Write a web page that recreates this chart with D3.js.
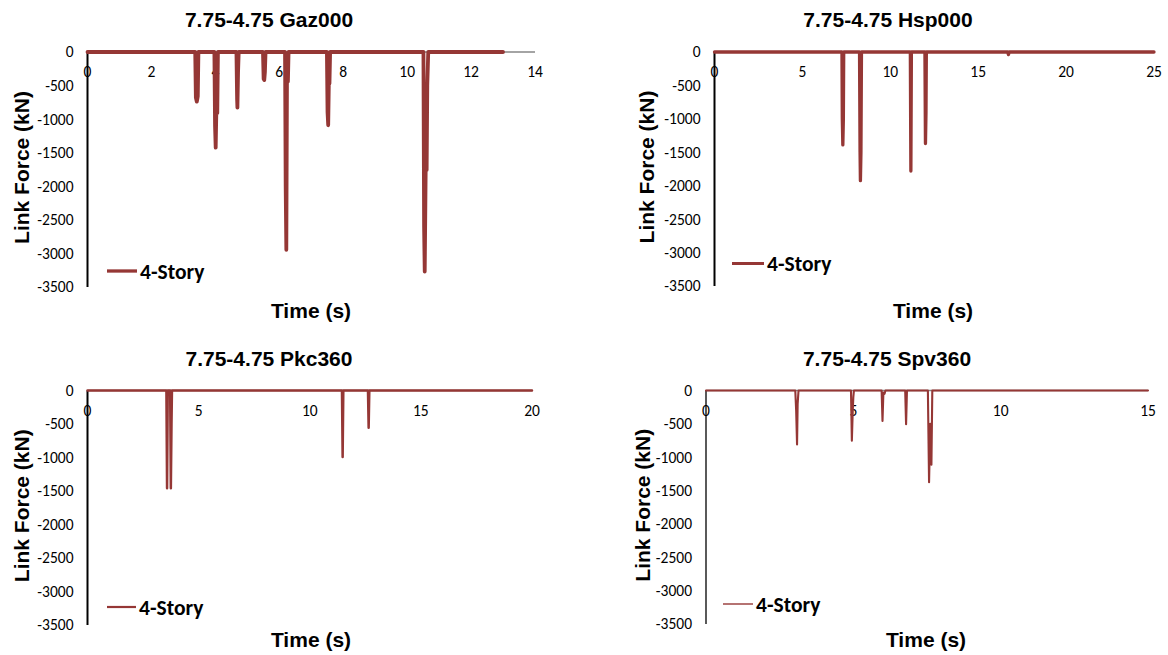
<!DOCTYPE html>
<html lang="en">
<head>
<meta charset="UTF-8">
<title>Link Force - 4-Story</title>
<script src="https://d3js.org/d3.v7.min.js"></script>
<style>
    body { margin: 0; background: #fff; }
    .tick-label { font-family: Carlito, Lato, sans-serif; font-size: 15.5px; fill: #000; }
    .title, .axis-title { font-family: "Liberation Sans", Arial, sans-serif; font-weight: bold; font-size: 21px; fill: #000; }
    .legend-text { font-family: Carlito, Lato, sans-serif; font-weight: bold; font-size: 21.5px; fill: #000; }
</style>
</head>
<body>
<svg id="chart" width="1168" height="655"></svg>
<script>
// data (time in s, force in kN)
const gazTime  = [0, 3.37, 3.39, 3.42, 3.45, 3.47, 3.97, 3.99, 4.01, 4.03, 4.06, 4.08, 4.66, 4.68, 4.69, 4.71, 4.73,
                  5.49, 5.51, 5.53, 5.55, 5.57, 6.18, 6.20, 6.22, 6.24, 6.27, 6.29, 7.49, 7.51, 7.53, 7.55, 7.57, 7.59,
                  10.51, 10.53, 10.55, 10.58, 10.61, 10.63, 10.66, 13.0];
const gazForce = [0, 0, -680, -740, -660, 0, 0, -1100, -1424, -900, -908, 0, 0, -700, -829, -300, 0,
                  0, -400, -417, -300, 0, 0, -2000, -2946, -440, -440, 0, 0, -900, -1091, -470, -470, 0,
                  0, -2600, -3270, -1756, -1756, -500, 0, 0];

const hspTime  = [0, 7.25, 7.27, 7.30, 7.33, 7.35, 8.25, 8.28, 8.30, 8.33, 8.36, 11.14, 11.17, 11.20, 11.97, 12.00, 12.03, 12.05,
                  16.68, 16.72, 16.76, 25];
const hspForce = [0, 0, -1000, -1389, -1000, 0, 0, -1500, -1924, -1500, 0, 0, -1781, 0, 0, -1369, -900, 0,
                  0, -40, 0, 0];

const pkcTime  = [0, 3.55, 3.58, 3.61, 3.72, 3.75, 3.78, 3.80, 11.45, 11.48, 11.51, 12.62, 12.65, 12.68, 20];
const pkcForce = [0, 0, -1460, 0, 0, -1460, -500, 0, 0, -992, 0, 0, -555, 0, 0];

const spvTime  = [0, 3.03, 3.06, 3.09, 3.11, 3.14, 4.92, 4.95, 4.98, 5.00, 5.02, 5.96, 5.99, 6.02, 6.06, 6.09,
                  6.76, 6.79, 6.82, 7.53, 7.57, 7.61, 7.65, 7.68, 15];
const spvForce = [0, 0, -300, -808, -200, 0, 0, -754, -300, -100, 0, 0, -457, -30, -50, 0,
                  0, -506, 0, 0, -1374, -500, -1112, 0, 0];

const titles = ["7.75-4.75 Gaz000", "7.75-4.75 Hsp000", "7.75-4.75 Pkc360", "7.75-4.75 Spv360"];
const xMaxes = [14, 25, 20, 15];
const xSteps = [2, 5, 5, 5];
const yTicks = [0, -500, -1000, -1500, -2000, -2500, -3000, -3500];
const seriesName = "4-Story";

const red = "#953735";
const svg = d3.select("#chart");

// layout of each small chart
const panels = [
    { time: gazTime, force: gazForce, x0: 87.5, x1: 535, y0: 52, y1: 287,
      titleX: 269, titleY: 27, ylabX: 22, xlabX: 311, xlabY: 318, lw: 3.8, axisW: 2,
      leg: [107, 137, 271], legW: 3.3 },
    { time: hspTime, force: hspForce, x0: 714.5, x1: 1154, y0: 52, y1: 286,
      titleX: 888, titleY: 27, ylabX: 647, xlabX: 933, xlabY: 318, lw: 3.3, axisW: 2,
      leg: [732, 764, 263.5], legW: 3 },
    { time: pkcTime, force: pkcForce, x0: 87.5, x1: 532, y0: 390.5, y1: 625,
      titleX: 269, titleY: 366, ylabX: 22, xlabX: 311, xlabY: 647, lw: 2.5, axisW: 2,
      leg: [107, 136, 607], legW: 2.2 },
    { time: spvTime, force: spvForce, x0: 706, x1: 1148, y0: 390.5, y1: 624,
      titleX: 887, titleY: 366, ylabX: 643, xlabX: 926, xlabY: 647, lw: 2.1, axisW: 1.3,
      leg: [723, 753, 604], legW: 1.4 }
];

panels.forEach((p, i) => {
    const g = svg.append("g");
    const x = d3.scaleLinear().domain([0, xMaxes[i]]).range([p.x0, p.x1]);
    const y = d3.scaleLinear().domain([0, -3500]).range([p.y0, p.y1]);

    // y axis labels
    g.selectAll("text.ytick")
        .data(yTicks)
        .enter().append("text")
        .attr("class", "tick-label")
        .attr("x", p.x0 - 14)
        .attr("y", d => y(d))
        .attr("dy", "0.35em")
        .attr("text-anchor", "end")
        .text(d => d);

    // horizontal axis at zero, gray
    g.append("line")
        .attr("x1", x(0)).attr("x2", x(xMaxes[i]))
        .attr("y1", y(0)).attr("y2", y(0))
        .attr("stroke", "#868686").attr("stroke-width", 1.5);

    // x tick labels just under the zero line
    const xTicks = d3.range(0, xMaxes[i] + 0.001, xSteps[i]);
    g.selectAll("text.xtick")
        .data(xTicks)
        .enter().append("text")
        .attr("class", "tick-label")
        .attr("x", d => x(d))
        .attr("y", y(0) + 20)
        .attr("dy", "0.35em")
        .attr("text-anchor", "middle")
        .text(d => d);

    // vertical axis
    g.append("line")
        .attr("x1", x(0)).attr("x2", x(0))
        .attr("y1", y(0)).attr("y2", y(-3500))
        .attr("stroke", "#000").attr("stroke-width", p.axisW);

    // series
    const pts = p.time.map((t, k) => [t, p.force[k]]);
    g.append("path")
        .datum(pts)
        .attr("d", d3.line().x(d => x(d[0])).y(d => y(d[1])))
        .attr("fill", "none")
        .attr("stroke", red)
        .attr("stroke-width", p.lw)
        .attr("stroke-linejoin", "round")
        .attr("stroke-linecap", "round");

    // titles
    g.append("text").attr("class", "title")
        .attr("x", p.titleX).attr("y", p.titleY)
        .attr("text-anchor", "middle").text(titles[i]);
    g.append("text").attr("class", "axis-title")
        .attr("x", p.xlabX).attr("y", p.xlabY)
        .attr("text-anchor", "middle").text("Time (s)");
    g.append("text").attr("class", "axis-title")
        .attr("transform", `translate(${p.ylabX},${(p.y0 + p.y1) / 2 - 2}) rotate(-90)`)
        .attr("dy", "0.35em")
        .attr("text-anchor", "middle").text("Link Force (kN)");

    // legend
    g.append("line")
        .attr("x1", p.leg[0]).attr("x2", p.leg[1])
        .attr("y1", p.leg[2]).attr("y2", p.leg[2])
        .attr("stroke", red).attr("stroke-width", p.legW);
    g.append("text").attr("class", "legend-text")
        .attr("x", p.leg[1] + 3).attr("y", p.leg[2])
        .attr("dy", "0.35em")
        .text(seriesName);
});
</script>
</body>
</html>
